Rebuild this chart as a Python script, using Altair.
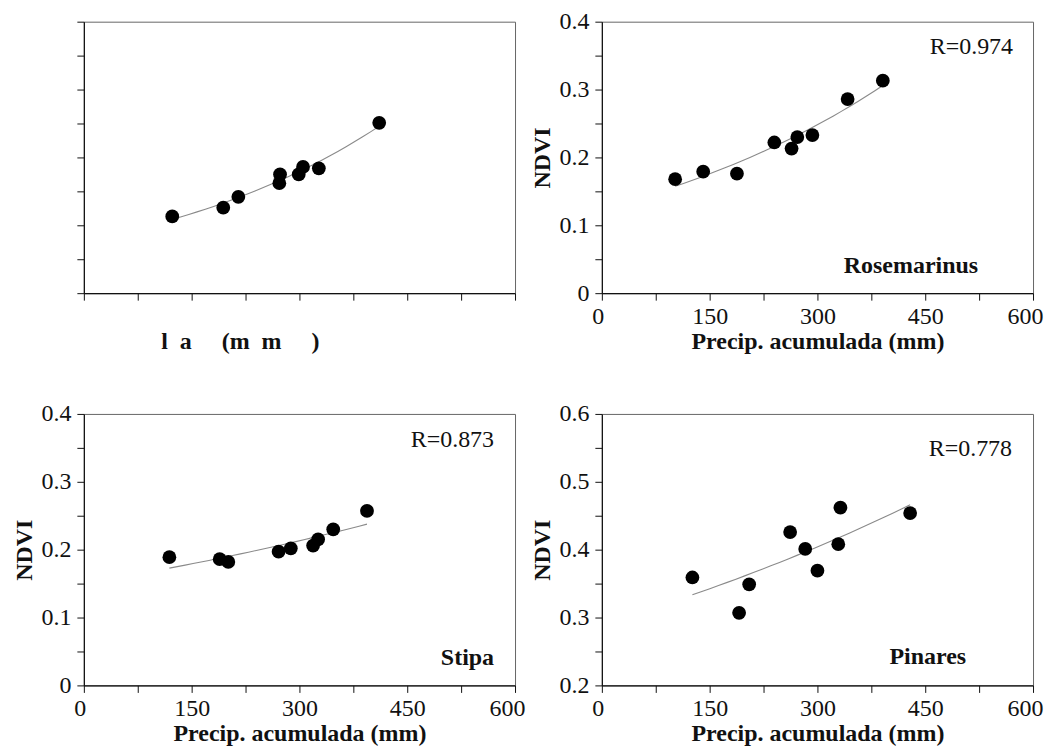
import altair as alt
import pandas as pd

FONT = "Liberation Serif"

# ---- data ----
# Top-left panel (labels lost in the scan)
a_precip = [123, 194, 215, 272, 273, 299, 305, 327, 411]
a_ndvi = [0.113, 0.126, 0.142, 0.162, 0.175, 0.175, 0.186, 0.184, 0.251]

# Rosemarinus
ros_precip = [102, 141, 188, 240, 264, 272, 293, 342, 391]
ros_ndvi = [0.168, 0.179, 0.176, 0.222, 0.213, 0.230, 0.233, 0.286, 0.313]

# Stipa
stipa_precip = [119, 189, 201, 271, 288, 319, 326, 347, 394]
stipa_ndvi = [0.189, 0.186, 0.182, 0.197, 0.202, 0.206, 0.215, 0.230, 0.257]

# Pinares
pin_precip = [126, 191, 205, 262, 283, 300, 329, 332, 429]
pin_ndvi = [0.359, 0.307, 0.349, 0.426, 0.401, 0.369, 0.408, 0.462, 0.454]

x_ticks = [0, 75, 150, 225, 300, 375, 450, 525, 600]
y_ticks_a = [0, 0.05, 0.1, 0.15, 0.2, 0.25, 0.3, 0.35, 0.4]
y_ticks_b = [0.2, 0.25, 0.3, 0.35, 0.4, 0.45, 0.5, 0.55, 0.6]

X_TITLE = "Precip. acumulada (mm)"
# what is left of the x title in the scanned top-left panel
X_TITLE_SCAN = "l\u00a0\u00a0a\u00a0\u00a0\u00a0\u00a0\u00a0(m\u00a0\u00a0m\u00a0\u00a0\u00a0\u00a0\u00a0)"
W, H = 432, 272


def panel(xs, ys, ydomain, yticks, r_text=None, name=None, name_pos=None,
          r_pos=None, show_labels=True, xtitle=X_TITLE):
    df = pd.DataFrame({"p": xs, "n": ys})
    base = alt.Chart(df)
    xa = dict(
        values=x_ticks,
        labelExpr="datum.value % 150 == 0 ? datum.label : ''" if show_labels else "''",
        labelFlush=True,
        labelFlushOffset=10,
        title=xtitle,
    )
    if not show_labels:
        xa.update(titleAnchor="start", titleAlign="left", titleX=77)
    x_axis = alt.Axis(**xa)
    y_axis = alt.Axis(
        values=yticks,
        format=".1~f",
        labelExpr="abs(round(datum.value*100) % 10) < 1 ? datum.label : ''" if show_labels else "''",
        title="NDVI" if show_labels else "",
    )
    x = alt.X("p:Q", scale=alt.Scale(domain=[0, 600], nice=False, zero=False), axis=x_axis)
    y = alt.Y("n:Q", scale=alt.Scale(domain=ydomain, nice=False, zero=False), axis=y_axis)

    line = base.transform_regression("p", "n", method="exp").mark_line(
        color="#8a8a8a", strokeWidth=1.1
    ).encode(x=x, y=y)
    pts = base.mark_circle(size=190, color="black", opacity=1).encode(x=x, y=y)
    layers = [line, pts]
    if r_text is not None:
        layers.append(
            alt.Chart(pd.DataFrame({"t": [r_text]})).mark_text(
                align="right", baseline="alphabetic", font=FONT, fontSize=24, color="#111"
            ).encode(text="t:N", x=alt.value(r_pos[0]), y=alt.value(r_pos[1]))
        )
    if name is not None:
        layers.append(
            alt.Chart(pd.DataFrame({"t": [name]})).mark_text(
                align="right", baseline="alphabetic", font=FONT, fontSize=24,
                fontWeight="bold", color="#111"
            ).encode(text="t:N", x=alt.value(name_pos[0]), y=alt.value(name_pos[1]))
        )
    return alt.layer(*layers).properties(width=W, height=H)


tl = panel(a_precip, a_ndvi, [0, 0.4], y_ticks_a, show_labels=False,
           xtitle=X_TITLE_SCAN)
tr = panel(ros_precip, ros_ndvi, [0, 0.4], y_ticks_a, "R=0.974", "Rosemarinus",
           (377, 252), (412, 32))
bl = panel(stipa_precip, stipa_ndvi, [0, 0.4], y_ticks_a, "R=0.873", "Stipa",
           (411, 252), (411, 33))
br = panel(pin_precip, pin_ndvi, [0.2, 0.6], y_ticks_b, "R=0.778", "Pinares",
           (365, 251), (411, 42))

chart = alt.concat(
    tl, tr, bl, br, columns=2, spacing=alt.RowColnumber(row=47, column=4)
).properties(
    background="white",
    padding={"left": 4, "top": 0, "right": 0, "bottom": 0},
).configure_view(
    stroke="#666", strokeWidth=1
).configure_axis(
    grid=False,
    domainColor="#111",
    domainWidth=1.2,
    tickColor="#111",
    tickSize=7,
    labelFont=FONT,
    labelFontSize=24,
    labelColor="#111",
    labelPadding=4,
    labelOverlap=False,
    titleFont=FONT,
    titleFontSize=24,
    titleFontWeight="bold",
    titleColor="#111",
    titlePadding=1,
).configure_axisY(
    labelPadding=6,
    titlePadding=4,
)

chart.save("out.html", embed_options={"renderer": "svg", "actions": False})
